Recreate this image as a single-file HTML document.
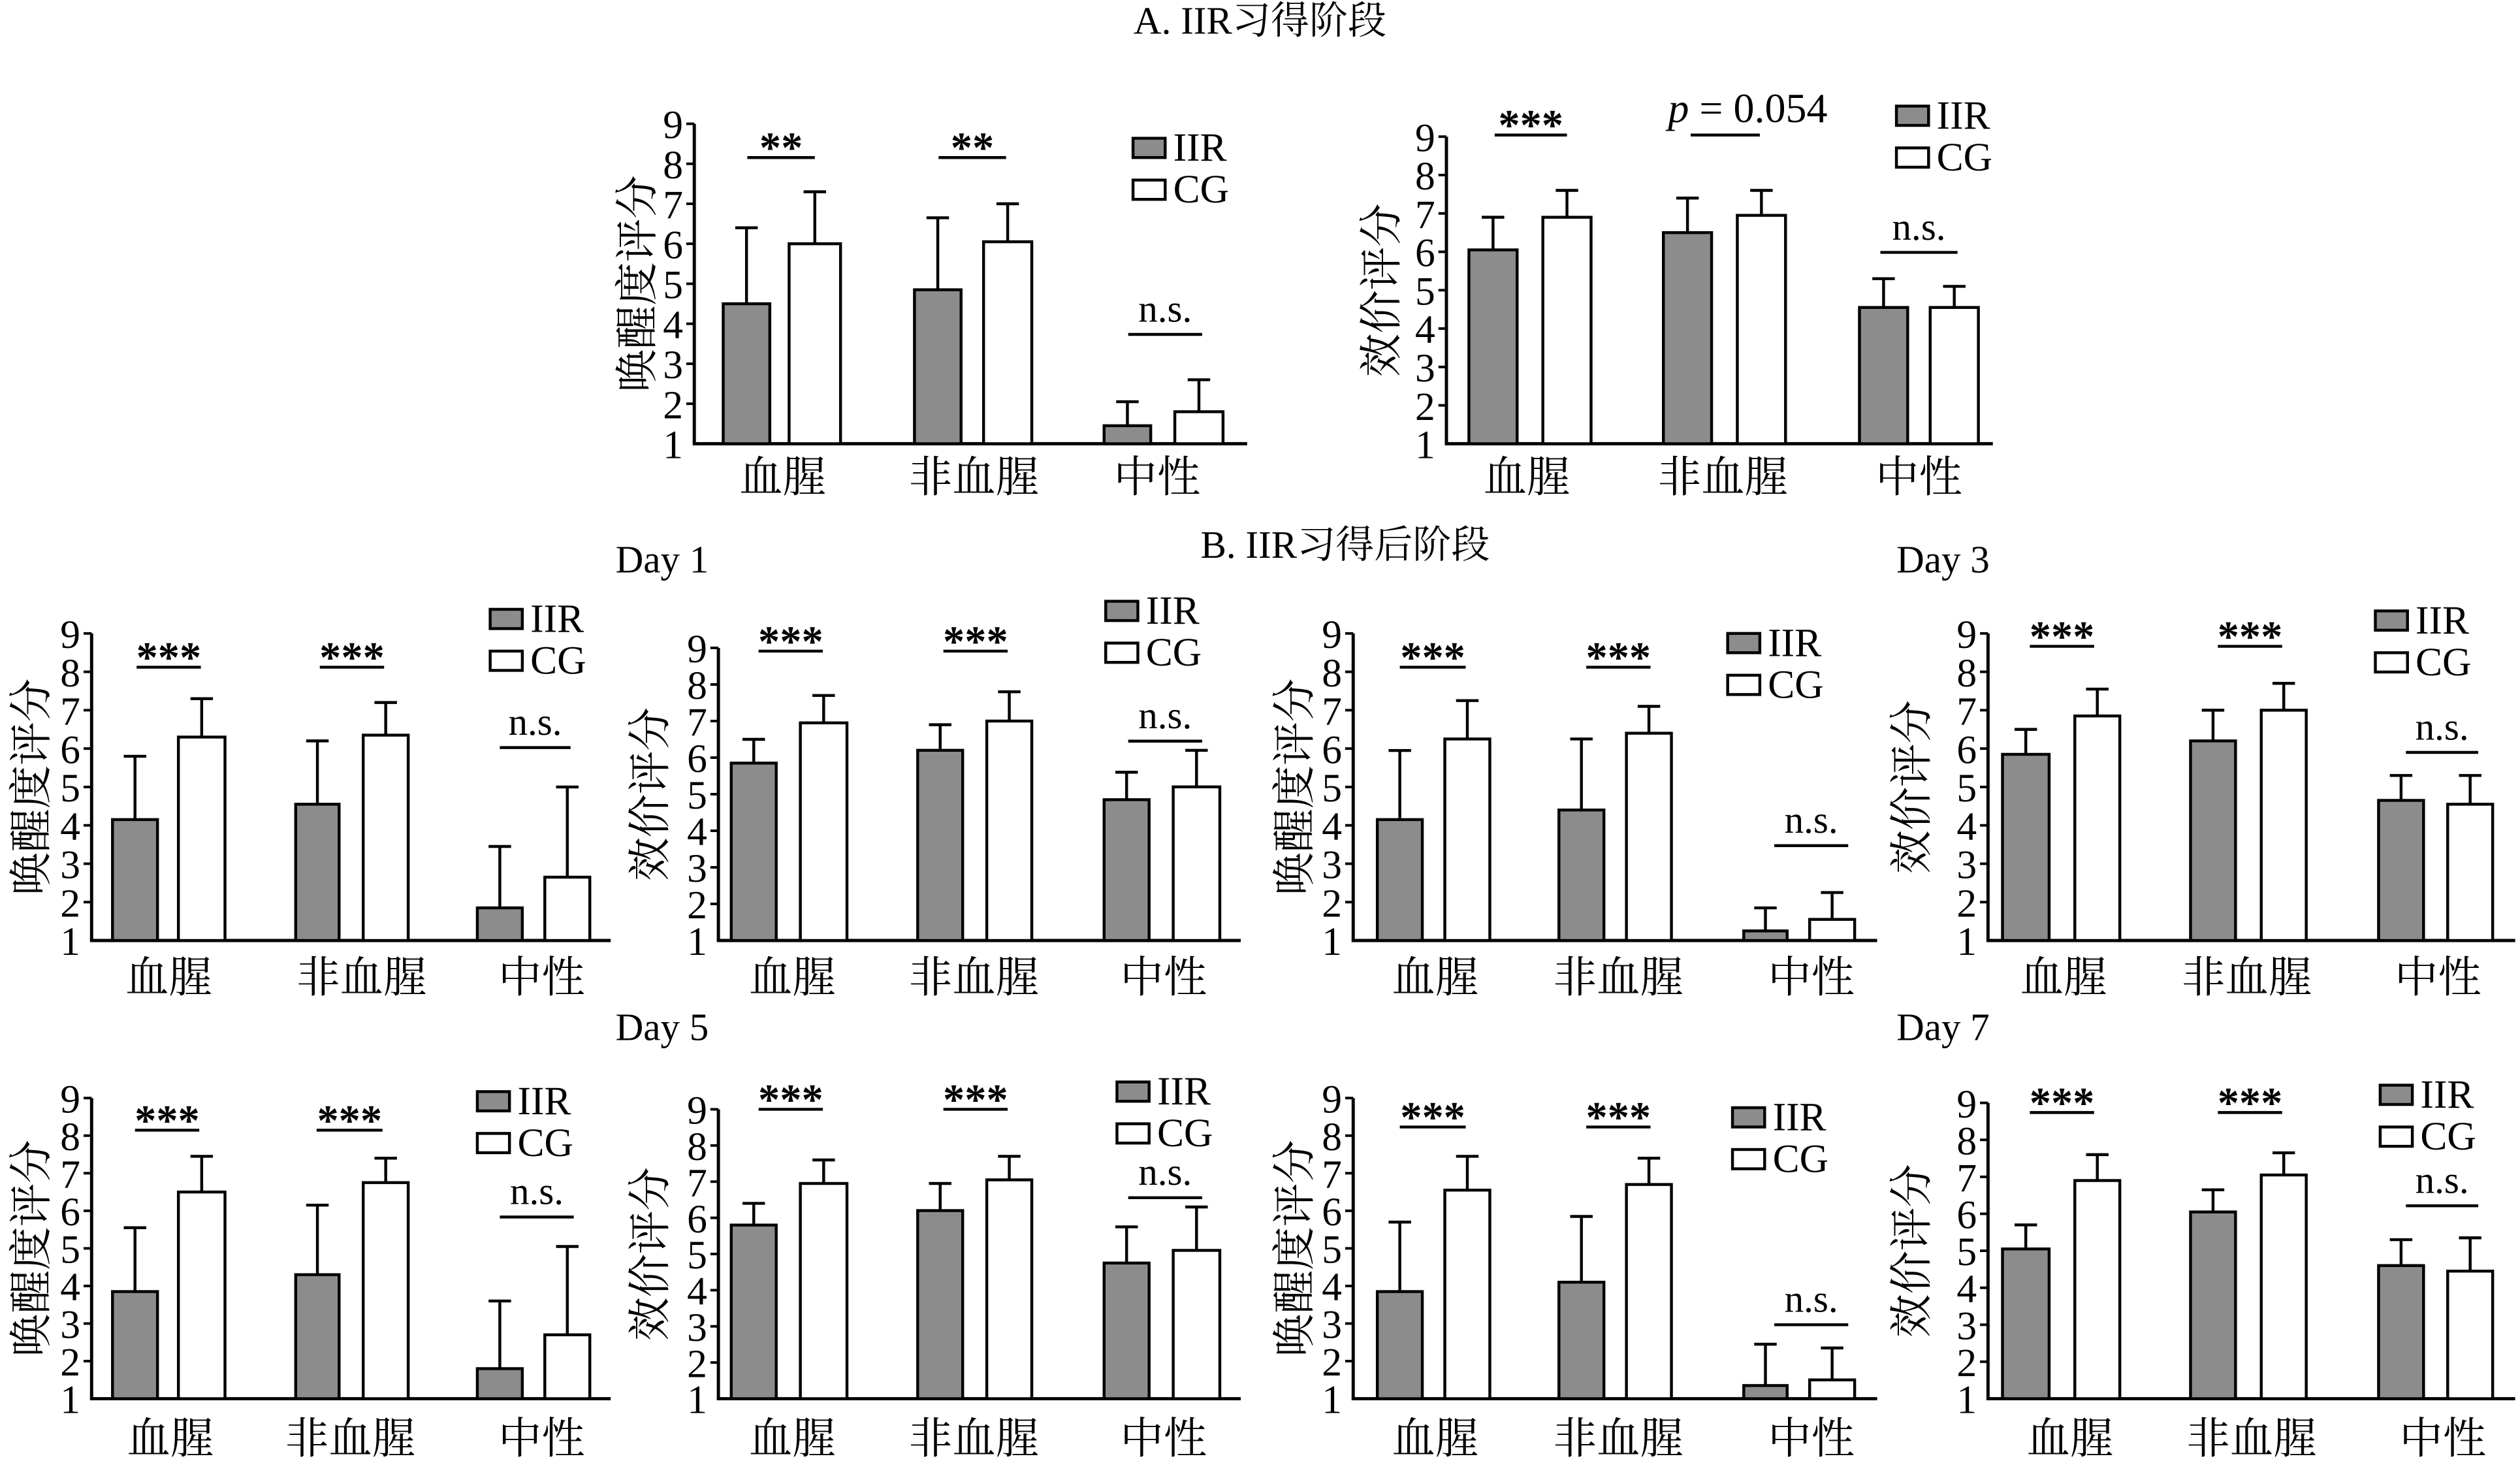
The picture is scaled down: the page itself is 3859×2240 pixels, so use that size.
<!DOCTYPE html>
<html><head><meta charset="utf-8"><style>
html,body{margin:0;padding:0;background:#fff;}
svg{display:block;}
text{font-family:"Liberation Serif","Noto Serif CJK SC","Noto Sans CJK SC",serif;fill:#000;}
</style></head><body>
<svg id="s" width="3859" height="2240" viewBox="0 0 1568 910" preserveAspectRatio="none" xmlns="http://www.w3.org/2000/svg">
<text x="784" y="21" font-size="24" text-anchor="middle">A. IIR习得阶段</text>
<text x="837" y="347" font-size="24" text-anchor="middle">B. IIR习得后阶段</text>
<text x="383" y="356" font-size="24">Day 1</text>
<text x="1180" y="356" font-size="24">Day 3</text>
<text x="383" y="647" font-size="24">Day 5</text>
<text x="1180" y="647" font-size="24">Day 7</text>
</svg>
<script>
var s=document.getElementById('s'),NS='http://www.w3.org/2000/svg';
function el(t,a,txt){var e=document.createElementNS(NS,t);for(var k in a)e.setAttribute(k,a[k]);if(txt!=null)e.textContent=txt;s.appendChild(e);return e;}
var A='唤醒度评分',V='效价评分';
var P=[
{ax:432,xe:776,y1:276,y9:77,bars:[[450,479,491,523],[569,598,612,642],[687,716,731,761]],v:[[4.5,6.4,6.0,7.3],[4.85,6.65,6.05,7.0],[1.45,2.05,1.8,2.6]],
 sig:[[465,507,98,'**'],[584,626,98,'**'],[702,748,208,'n.s.']],leg:[705,86],lab:[487,606,720],ly:306,yl:397,t:A},
{ax:900,xe:1240,y1:276,y9:85,bars:[[914,944,960,990],[1035,1065,1081,1111],[1157,1187,1201,1231]],v:[[6.05,6.9,6.9,7.6],[6.5,7.4,6.95,7.6],[4.55,5.3,4.55,5.1]],
 sig:[[930,975,84,'***'],[1052,1095,84,'P'],[1170,1218,157,'n.s.']],leg:[1180,66],lab:[950,1072,1194],ly:306,yl:860,t:V},
{ax:57,xe:380,y1:585,y9:394,bars:[[70,98,111,140],[184,211,226,254],[297,325,339,367]],v:[[4.15,5.8,6.3,7.3],[4.55,6.2,6.35,7.2],[1.85,3.45,2.65,5.0]],
 sig:[[85,125,415,'***'],[199,239,415,'***'],[311,355,465,'n.s.']],leg:[305,379],lab:[105,225,337],ly:617,yl:20,t:A},
{ax:447,xe:772,y1:585,y9:403,bars:[[455,483,498,527],[571,599,614,642],[687,715,730,759]],v:[[5.85,6.5,6.95,7.7],[6.2,6.9,7.0,7.8],[4.85,5.6,5.2,6.2]],
 sig:[[472,512,405,'***'],[587,627,405,'***'],[702,748,461,'n.s.']],leg:[688,374],lab:[493,606,724],ly:617,yl:405,t:V},
{ax:842,xe:1168,y1:585,y9:394,bars:[[857,885,899,927],[970,998,1012,1040],[1085,1112,1126,1154]],v:[[4.15,5.95,6.25,7.25],[4.4,6.25,6.4,7.1],[1.25,1.85,1.55,2.25]],
 sig:[[871,912,415,'***'],[987,1027,415,'***'],[1104,1150,526,'n.s.']],leg:[1075,394],lab:[893,1007,1127],ly:617,yl:806,t:A},
{ax:1237,xe:1565,y1:585,y9:394,bars:[[1246,1275,1291,1319],[1363,1391,1407,1435],[1480,1508,1523,1551]],v:[[5.85,6.5,6.85,7.55],[6.2,7.0,7.0,7.7],[4.65,5.3,4.55,5.3]],
 sig:[[1263,1303,402,'***'],[1380,1420,402,'***'],[1497,1542,468,'n.s.']],leg:[1478,380],lab:[1284,1398,1517],ly:617,yl:1190,t:V},
{ax:57,xe:380,y1:870,y9:683,bars:[[70,98,111,140],[184,211,226,254],[297,325,339,367]],v:[[3.85,5.55,6.5,7.45],[4.3,6.15,6.75,7.4],[1.8,3.6,2.7,5.05]],
 sig:[[84,124,703,'***'],[197,238,703,'***'],[311,357,757,'n.s.']],leg:[297,679],lab:[106,218,337],ly:904,yl:20,t:A},
{ax:447,xe:772,y1:870,y9:690,bars:[[455,483,498,527],[571,599,614,642],[687,715,730,759]],v:[[5.8,6.4,6.95,7.6],[6.2,6.95,7.05,7.7],[4.75,5.75,5.1,6.3]],
 sig:[[472,512,690,'***'],[587,627,690,'***'],[702,748,745,'n.s.']],leg:[695,673],lab:[493,606,724],ly:904,yl:405,t:V},
{ax:842,xe:1168,y1:870,y9:683,bars:[[857,885,899,927],[970,998,1012,1040],[1085,1112,1126,1154]],v:[[3.85,5.7,6.55,7.45],[4.1,5.85,6.7,7.4],[1.35,2.45,1.5,2.35]],
 sig:[[871,912,701,'***'],[987,1027,701,'***'],[1104,1150,824,'n.s.']],leg:[1078,689],lab:[893,1007,1127],ly:904,yl:806,t:A},
{ax:1237,xe:1565,y1:870,y9:686,bars:[[1246,1275,1291,1319],[1363,1391,1407,1435],[1480,1508,1523,1551]],v:[[5.05,5.7,6.9,7.6],[6.05,6.65,7.05,7.65],[4.6,5.3,4.45,5.35]],
 sig:[[1263,1303,692,'***'],[1380,1420,692,'***'],[1497,1542,750,'n.s.']],leg:[1481,675],lab:[1288,1401,1520],ly:904,yl:1190,t:V}
];
P.forEach(function(p){
 var u=(p.y1-p.y9)/8;function Y(v){return p.y1-(v-1)*u;}
 el('line',{x1:p.ax,y1:p.y9,x2:p.ax,y2:p.y1,stroke:'#000','stroke-width':2});
 el('line',{x1:p.ax-1,y1:p.y1,x2:p.xe,y2:p.y1,stroke:'#000','stroke-width':2});
 for(var i=1;i<=9;i++){var y=Y(i);if(i>1)el('line',{x1:p.ax-5,y1:y,x2:p.ax,y2:y,stroke:'#000','stroke-width':1.6});
  el('text',{x:p.ax-7,y:y+9,'font-size':25,'text-anchor':'end'},String(i));}
 p.bars.forEach(function(b,g){var v=p.v[g];
  [[b[0],b[1],v[0],v[1],'#8c8c8c'],[b[2],b[3],v[2],v[3],'#fff']].forEach(function(q){
   var cx=(q[0]+q[1])/2;
   el('line',{x1:cx,y1:Y(q[2]),x2:cx,y2:Y(q[3]),stroke:'#000','stroke-width':1.8});
   el('line',{x1:cx-7,y1:Y(q[3]),x2:cx+7,y2:Y(q[3]),stroke:'#000','stroke-width':1.8});
   el('rect',{x:q[0],y:Y(q[2]),width:q[1]-q[0],height:p.y1-Y(q[2]),fill:q[4],stroke:'#000','stroke-width':1.8});
  });
 });
 p.sig.forEach(function(g){
  el('line',{x1:g[0],y1:g[2],x2:g[1],y2:g[2],stroke:'#000','stroke-width':1.8});
  var cx=(g[0]+g[1])/2;
  if(g[3]=='P'){var t=el('text',{x:cx+14,y:g[2]-8,'font-size':26,'text-anchor':'middle'});
   var a=document.createElementNS(NS,'tspan');a.setAttribute('font-style','italic');a.textContent='p';t.appendChild(a);
   var b2=document.createElementNS(NS,'tspan');b2.textContent=' = 0.054';t.appendChild(b2);}
  else if(g[3]=='n.s.')el('text',{x:cx,y:g[2]-8,'font-size':24,'text-anchor':'middle'},'n.s.');
  else el('text',{x:cx,y:g[2]+3,'font-size':27,'text-anchor':'middle','font-weight':'bold'},g[3]);
 });
 var lx=p.leg[0],ly=p.leg[1];
 el('rect',{x:lx,y:ly,width:20,height:12,fill:'#8c8c8c',stroke:'#000','stroke-width':1.8});
 el('text',{x:lx+25,y:ly+14,'font-size':25},'IIR');
 el('rect',{x:lx,y:ly+26,width:20,height:12,fill:'#fff',stroke:'#000','stroke-width':1.8});
 el('text',{x:lx+25,y:ly+40,'font-size':25},'CG');
 var labs=['血腥','非血腥','中性'];
 p.lab.forEach(function(x,i){el('text',{x:x,y:p.ly,'font-size':27,'text-anchor':'middle'},labs[i]);});
 var cy=(p.y1+p.y9)/2;
 el('text',{x:p.yl,y:cy,'font-size':27,'text-anchor':'middle','dominant-baseline':'central',transform:'rotate(-90 '+p.yl+' '+cy+')'},p.t);
});
</script>
</body></html>
